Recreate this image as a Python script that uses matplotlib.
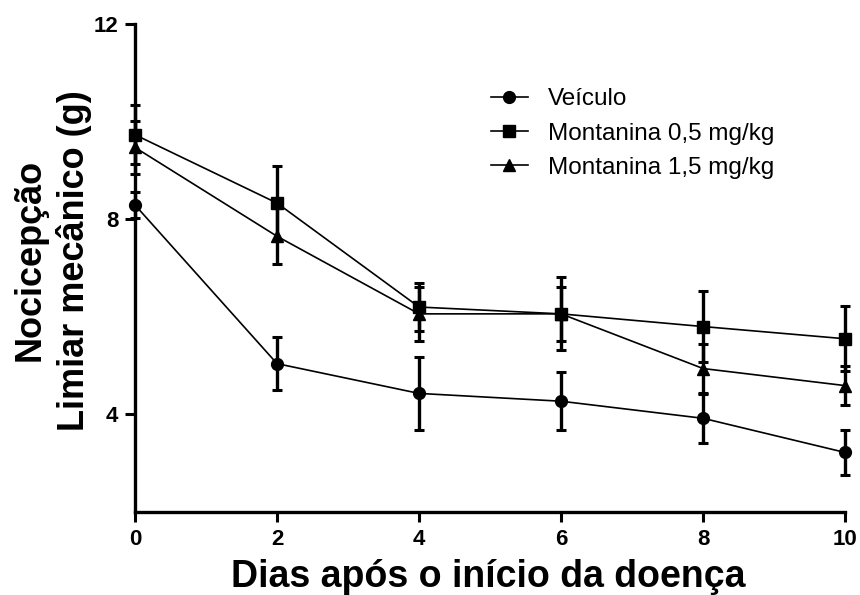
import matplotlib.pyplot as plt
import numpy as np

dias = [0, 2, 4, 6, 8, 10]

veiculo = [8.29, 5.04, 4.43, 4.27, 3.92, 3.22]
veiculo_err = [0.27, 0.55, 0.75, 0.6, 0.5, 0.47]

mont05 = [9.73, 8.33, 6.2, 6.06, 5.8, 5.55]
mont05_err = [0.6, 0.77, 0.5, 0.75, 0.73, 0.67]

mont15 = [9.47, 7.65, 6.06, 6.06, 4.94, 4.59]
mont15_err = [0.55, 0.57, 0.55, 0.55, 0.5, 0.4]

plt.rcParams['font.family'] = ['Liberation Sans', 'DejaVu Sans']

fig = plt.figure(figsize=(8.6, 5.95), dpi=100)
ax = fig.add_axes([0.157, 0.1395, 0.8256, 0.8202])

series = [
    (veiculo, veiculo_err, 'o', 'Veículo'),
    (mont05, mont05_err, 's', 'Montanina 0,5 mg/kg'),
    (mont15, mont15_err, '^', 'Montanina 1,5 mg/kg'),
]
handles = []
for vals, err, mk, lab in series:
    c = ax.errorbar(dias, vals, yerr=err, color='black', marker=mk, markersize=8.5,
                    linewidth=1.2, elinewidth=2.4, capsize=3.8, capthick=2.2,
                    label=lab, clip_on=False, zorder=3)
    handles.append(c.lines[0])

ax.set_xlim(0, 10)
ax.set_ylim(2, 12)
ax.set_xticks([0, 2, 4, 6, 8, 10])
ax.set_yticks([4, 8, 12])

for s in ['top', 'right']:
    ax.spines[s].set_visible(False)
for s in ['left', 'bottom']:
    ax.spines[s].set_linewidth(2.4)

ax.tick_params(direction='out', length=7, width=2.2, pad=5)
for t in ax.get_xticklabels() + ax.get_yticklabels():
    t.set_fontweight('bold')
    t.set_fontsize(16)

ax.set_xlabel('Dias após o início da doença', fontsize=27, fontweight='bold')
ax.xaxis.set_label_coords(0.498, -0.097)
ax.set_ylabel('Nocicepção\nLimiar mecânico (g)', fontsize=26, fontweight='bold',
              linespacing=1.28)
ax.yaxis.set_label_coords(-0.061, 0.516)

leg = ax.legend(handles=handles, labels=[s[3] for s in series],
                loc='upper left', bbox_to_anchor=(0.487, 0.888), frameon=False,
                fontsize=17.5, handlelength=1.55, handletextpad=0.8,
                labelspacing=0.5, borderaxespad=0)

fig.savefig('out.png', dpi=100)
